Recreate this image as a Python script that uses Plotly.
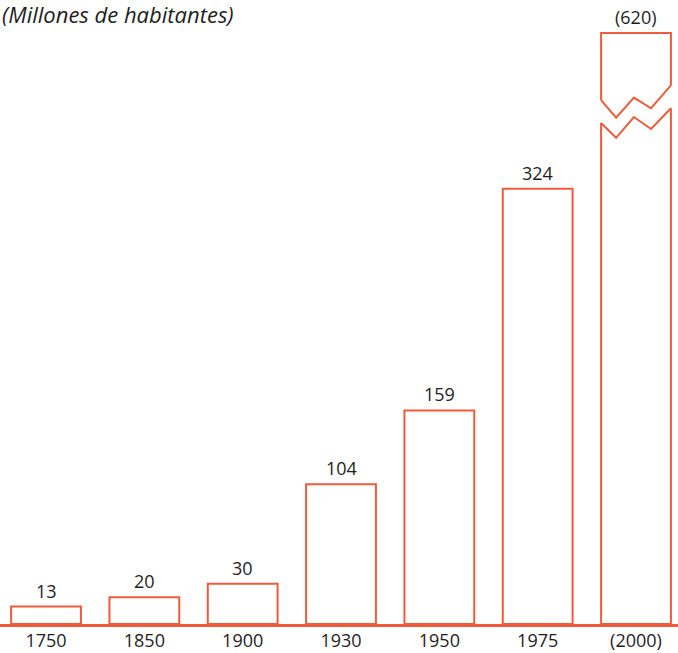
import plotly.graph_objects as go

years = ["1750", "1850", "1900", "1930", "1950", "1975", "(2000)"]
values = [13, 20, 30, 104, 159, 324, 620]
value_labels = ["13", "20", "30", "104", "159", "324", "(620)"]
title_text = "(Millones de habitantes)"

# display settings
axis_cap = 440          # height at which the broken (truncated) bar is drawn
bar_width = 0.71
orange = "#ef5b3b"
ink = "#1e1e1e"
font_family = "Open Sans, Lato, DejaVu Sans, sans-serif"

xs = list(range(len(years)))
plotted = [min(v, axis_cap) for v in values]

fig = go.Figure()
fig.add_trace(go.Bar(
    x=xs, y=plotted, width=bar_width,
    marker=dict(color="white", line=dict(color=orange, width=2)),
    hoverinfo="skip", showlegend=False,
))

# break marks on any truncated bar (zigzag offsets relative to the bar)
zig_dx = [-0.5, -0.285, -0.03, 0.215, 0.5]          # fraction of bar width
upper_dy = [-50, -63, -48, -56, -39]                # below the cap, in axis units
lower_dy = [-67, -78, -62.5, -71.4, -56]
for i, v in enumerate(values):
    if v <= axis_cap:
        continue
    zx = [i + f * bar_width for f in zig_dx]
    uy = [axis_cap + d for d in upper_dy]
    ly = [axis_cap + d for d in lower_dy]
    pad = 0.03
    px = [zx[0] - pad] + zx + [zx[-1] + pad, zx[-1] + pad] + zx[::-1] + [zx[0] - pad]
    py = [uy[0]] + uy + [uy[-1], ly[-1]] + ly[::-1] + [ly[0]]
    fig.add_trace(go.Scatter(x=px, y=py, fill="toself", fillcolor="white",
                             mode="none", hoverinfo="skip", showlegend=False))
    for yy in (uy, ly):
        fig.add_trace(go.Scatter(x=zx, y=yy, mode="lines",
                                 line=dict(color=orange, width=2),
                                 hoverinfo="skip", showlegend=False))

for i, (h, lab) in enumerate(zip(plotted, value_labels)):
    fig.add_annotation(x=i, y=h, text=lab, showarrow=False, yanchor="bottom",
                       yshift=2, font=dict(size=18, color=ink, family=font_family))

fig.add_annotation(x=0, y=1.0, xref="paper", yref="paper", xanchor="left",
                   yanchor="middle", text=title_text, showarrow=False,
                   font=dict(size=22, color=ink, family=font_family, style="italic"))

fig.update_layout(
    width=678, height=653,
    margin=dict(l=0, r=0, t=14, b=29),
    paper_bgcolor="white", plot_bgcolor="white",
    xaxis=dict(range=[-0.468, 6.427], tickmode="array", tickvals=xs, ticktext=years,
               showgrid=False, zeroline=False, showline=True, linecolor=orange,
               linewidth=3, ticks="", ticklabelstandoff=-2,
               tickfont=dict(size=18, color=ink, family=font_family),
               automargin=False),
    yaxis=dict(range=[0, 454.2], visible=False, showgrid=False, zeroline=False),
    bargap=0.3,
)

fig.write_html("out.html", config={"displayModeBar": False},
               post_script="document.body.style.margin='0';document.body.style.padding='0';")
